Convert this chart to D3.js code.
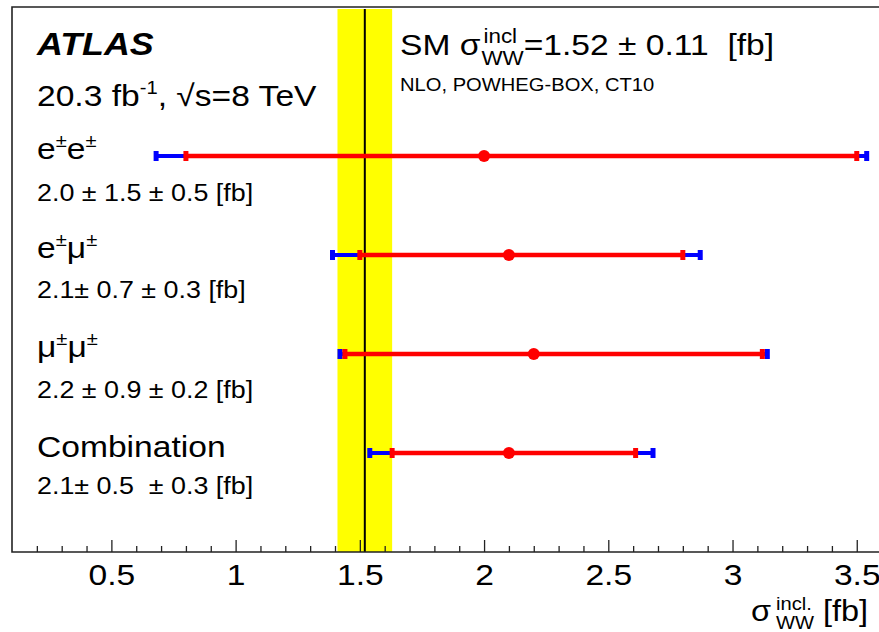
<!DOCTYPE html>
<html>
<head>
<meta charset="utf-8">
<script src="https://cdn.jsdelivr.net/npm/d3@7"></script>
<style>
  html, body { margin: 0; padding: 0; background: #fff; }
  svg { display: block; }
  text { font-family: "Liberation Sans", Arial, Helvetica, sans-serif; fill: #000; }
</style>
</head>
<body>
<svg id="chart" width="879" height="632"></svg>
<script>
// ---- data ----
const categories = ["e±e±", "e±μ±", "μ±μ±", "Combination"];
const centralValues = [2.0, 2.1, 2.2, 2.1];
const statLow  = [0.80, 1.50, 1.44, 1.63];
const statHigh = [3.50, 2.80, 3.12, 2.61];
const totLow   = [0.68, 1.39, 1.42, 1.54];
const totHigh  = [3.54, 2.87, 3.14, 2.68];
const valueLabels = ["2.0 ± 1.5 ± 0.5 [fb]", "2.1± 0.7 ± 0.3 [fb]", "2.2 ± 0.9 ± 0.2 [fb]", "2.1± 0.5  ± 0.3 [fb]"];
const smValue = 1.52;
const smError = 0.11;
const majorTicks = [0.5, 1, 1.5, 2, 2.5, 3, 3.5];
const minorTicks = [0.2,0.3,0.4,0.6,0.7,0.8,0.9,1.1,1.2,1.3,1.4,1.6,1.7,1.8,1.9,2.1,2.2,2.3,2.4,2.6,2.7,2.8,2.9,3.1,3.2,3.3,3.4];

// ---- layout ----
const svg = d3.select("#chart");
const pL = 12, pR = 881.6, pT = 7, pB = 552;
const HS = 1.12; // horizontal stretch of the reference's lettering
const x = d3.scaleLinear().domain([0.1, 3.6]).range([pL, pR]);
const y = d3.scalePoint().domain(categories).range([156, 453]);

function addText(px, py, size) {
  return svg.append("text")
    .attr("transform", `translate(${px},${py}) scale(${HS},1)`)
    .attr("xml:space", "preserve").style("white-space", "pre")
    .style("font-size", size + "px");
}

// SM band + line
svg.append("rect")
  .attr("x", x(smValue - smError)).attr("y", pT + 2)
  .attr("width", x(smValue + smError) - x(smValue - smError))
  .attr("height", pB - pT - 2)
  .attr("fill", "#ffff00");
svg.append("line")
  .attr("x1", x(smValue)).attr("x2", x(smValue))
  .attr("y1", pT + 2).attr("y2", pB)
  .attr("stroke", "#000").attr("stroke-width", 2);

// frame
svg.append("path")
  .attr("d", `M${pR},${pT}H${pL}V${pB}H${pR}`)
  .attr("fill", "none").attr("stroke", "#222").attr("stroke-width", 1.6);

// axes
const axisG = svg.append("g").attr("transform", `translate(0,${pB})`);
axisG.call(d3.axisBottom(x).tickValues(majorTicks).tickSize(-12).tickPadding(11)
  .tickFormat(d => String(d)));
axisG.select(".domain").remove();
axisG.selectAll(".tick line").attr("stroke", "#222").attr("stroke-width", 1.3);
axisG.selectAll(".tick text")
  .attr("y", 0).attr("dy", 0)
  .attr("transform", `translate(0,33) scale(${HS},1)`)
  .style("font-family", "'Liberation Sans', Arial, sans-serif")
  .style("font-size", "30px").attr("fill", "#000");
const minorG = svg.append("g").attr("transform", `translate(0,${pB})`);
minorG.call(d3.axisBottom(x).tickValues(minorTicks).tickSize(-6).tickFormat(""));
minorG.select(".domain").remove();
minorG.selectAll(".tick line").attr("stroke", "#222").attr("stroke-width", 1.3);

// axis title
addText(751, 621, 29).text("σ");
addText(776, 610, 18).text("incl.");
addText(776, 629, 18).text("WW");
addText(823, 621, 29).text("[fb]");

// error bars
const rows = categories.map((c, i) => ({
  c, v: centralValues[i], sl: statLow[i], sh: statHigh[i], tl: totLow[i], th: totHigh[i]
}));
const capH = 5;
const g = svg.append("g");
rows.forEach(r => {
  const yy = y(r.c);
  g.append("line").attr("x1", x(r.tl)).attr("x2", x(r.th)).attr("y1", yy).attr("y2", yy)
    .attr("stroke", "#0000ff").attr("stroke-width", 4);
  [r.tl, r.th].forEach(v => g.append("line")
    .attr("x1", x(v)).attr("x2", x(v)).attr("y1", yy - capH).attr("y2", yy + capH)
    .attr("stroke", "#0000ff").attr("stroke-width", 5));
  g.append("line").attr("x1", x(r.sl)).attr("x2", x(r.sh)).attr("y1", yy).attr("y2", yy)
    .attr("stroke", "#ff0000").attr("stroke-width", 4.5);
  [r.sl, r.sh].forEach(v => g.append("line")
    .attr("x1", x(v)).attr("x2", x(v)).attr("y1", yy - capH).attr("y2", yy + capH)
    .attr("stroke", "#ff0000").attr("stroke-width", 5));
  g.append("circle").attr("cx", x(r.v)).attr("cy", yy).attr("r", 6).attr("fill", "#ff0000");
});

// row labels
const nameParts = [
  [["e",""],["±","sup"],["e",""],["±","sup"]],
  [["e",""],["±","sup"],["μ",""],["±","sup"]],
  [["μ",""],["±","sup"],["μ",""],["±","sup"]],
  [["Combination",""]]
];
const nameBase = [159, 258, 357, 457];
const valBase = [201, 298, 398, 494];
categories.forEach((c, i) => {
  const t = addText(37, nameBase[i], 30);
  let raised = false;
  nameParts[i].forEach(([s, k]) => {
    const ts = t.append("tspan").text(s);
    if (k === "sup") { ts.style("font-size", "18px").attr("dy", raised ? 0 : -12); raised = true; }
    else { if (raised) { ts.attr("dy", 12); raised = false; } }
  });
  addText(37, valBase[i], 24).text(valueLabels[i]);
});

// ATLAS label
addText(37, 55, 32).style("font-weight", "bold").style("font-style", "italic").text("ATLAS");
const lum = addText(37, 106, 30);
lum.append("tspan").text("20.3 fb");
lum.append("tspan").attr("dy", -12).style("font-size", "18px").text("-1");
lum.append("tspan").attr("dy", 12).text(", √s=8 TeV");

// SM label
const smT = addText(400, 55, 30).text("SM σ");
const smW = smT.node().getComputedTextLength() * HS;
addText(400 + smW + 3, 43, 20).text("incl");
const ww = addText(400 + smW + 1, 65, 20).text("WW");
const wwW = ww.node().getComputedTextLength() * HS;
addText(400 + smW + 1 + wwW, 55, 30).text("=1.52 ± 0.11  [fb]");
addText(400, 91, 18).text("NLO, POWHEG-BOX, CT10");
</script>
</body>
</html>
